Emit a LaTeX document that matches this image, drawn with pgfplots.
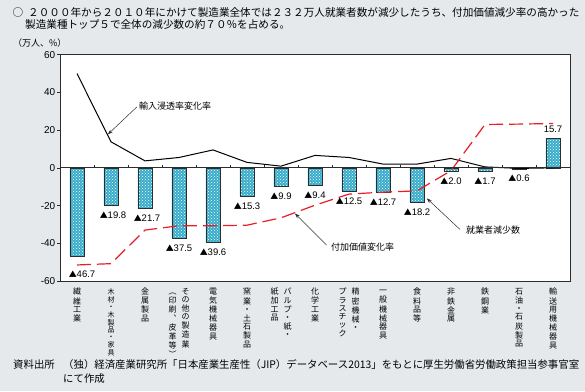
\documentclass[border=0pt]{standalone}
\usepackage{pgfplots}
\pgfplotsset{compat=1.18}
\usepackage{pgfplotstable}
\usepackage{fontspec}
\usetikzlibrary{patterns,arrows.meta}
\setmainfont{Noto Sans CJK JP}
\newfontfamily\numfont{Liberation Sans}
\newfontfamily\trifont{Noto Sans CJK JP}[Scale=0.84]
\protected\def\tri{{\trifont ▲}}
\definecolor{bg}{RGB}{230,233,236}
\definecolor{barfill}{RGB}{55,172,202}
\definecolor{redl}{RGB}{232,30,40}
\definecolor{frame}{RGB}{45,45,45}
\newcommand\vt[1]{\begin{tabular}[t]{@{}c@{}}#1\end{tabular}}
\newcommand\vtt[2]{\vt{#1}\hspace{5pt}\vt{#2}}

\pgfplotstableread{
x y lab dy dx
0 -46.7 \tri46.7 -22 5
1 -19.8 \tri19.8 -14 2
2 -21.7 \tri21.7 -14 2
3 -37.5 \tri37.5 -14 0
4 -39.6 \tri39.6 -14 0
5 -15.3 \tri15.3 -14 0
6 -9.9 \tri9.9 -14 0
7 -9.4 \tri9.4 -14 0
8 -12.5 \tri12.5 -14 0
9 -12.7 \tri12.7 -14 0
10 -18.2 \tri18.2 -14 0
11 -2.0 \tri2.0 -14 0
12 -1.7 \tri1.7 -14 0
13 -0.6 \tri0.6 -13 0
14 15.7 15.7 5 0
}\bars

\pgfplotstableread{
x y
0 50.0
1 13.8
2 3.7
3 5.5
4 9.5
5 2.9
6 0.9
7 6.6
8 5.5
9 2.0
10 2.0
11 5.0
12 0.5
13 -0.3
14 0.0
}\imp

\pgfplotstableread{
x y
0 -51.5
1 -50.8
2 -33.0
3 -30.7
4 -30.7
5 -30.4
6 -26.5
7 -19.8
8 -13.9
9 -12.9
10 -12.2
11 -1.5
12 23.0
13 23.2
14 23.5
}\va

\begin{document}
\begin{tikzpicture}
\useasboundingbox (0,0) rectangle (585pt,391pt);
\fill[bg] (0,0) rectangle (585pt,391pt);
% title
\node[font=\fontsize{10.6}{12}\selectfont, inner sep=0] at (18pt,379pt) {○};
\node[anchor=west, font=\fontsize{10.6}{12}\selectfont, inner sep=0] at (28pt,379pt) {２０００年から２０１０年にかけて製造業全体では２３２万人就業者数が減少したうち、付加価値減少率の高かった};
\node[anchor=west, font=\fontsize{10.6}{12}\selectfont, inner sep=0] at (25pt,367pt) {製造業種トップ５で全体の減少数の約７０％を占める。};
\node[anchor=west, font=\fontsize{9}{10}\selectfont, inner sep=0] at (13pt,348pt) {（万人、\%）};
% source
\node[anchor=west, font=\fontsize{10.4}{11}\selectfont, inner sep=0] at (13pt,26pt) {資料出所};
\node[anchor=west, font=\fontsize{10.4}{11}\selectfont, inner sep=0] at (63pt,26pt) {（独）経済産業研究所「日本産業生産性（JIP）データベース2013」をもとに厚生労働省労働政策担当参事官室};
\node[anchor=west, font=\fontsize{10.4}{11}\selectfont, inner sep=0] at (63pt,12pt) {にて作成};

\begin{axis}[
  at={(60pt,110pt)}, anchor=south west,
  scale only axis, width=510pt, height=226.3pt,
  xmin=-0.5, xmax=14.5, ymin=-60, ymax=60,
  axis line style={frame, line width=0.9pt},
  axis background/.style={fill=white},
  ytick={-60,-40,-20,0,20,40,60},
  yticklabels={-60,-40,-20,0,20,40,60},
  yticklabel style={font=\numfont\fontsize{10}{10}\selectfont, inner sep=1.5pt},
  ytick pos=left, tick align=outside, major tick length=3pt,
  y tick style={frame, line width=0.6pt},
  xtick={0,...,14},
  x tick style={draw=none},
  xticklabel style={anchor=north, font=\fontsize{8}{8}\selectfont, inner sep=0pt, yshift=-4pt},
  xticklabels={
    {\vt{繊\\維\\工\\業}},
    {\fontsize{7}{7}\selectfont\vt{木\\材\\・\\木\\製\\品\\・\\家\\具}},
    {\vt{金\\属\\製\\品}},
    {\vtt{︵\\印\\刷\\︑\\皮\\革\\等\\︶}{そ\\の\\他\\の\\製\\造\\業}},
    {\vt{電\\気\\機\\械\\器\\具}},
    {\vt{窯\\業\\・\\土\\石\\製\\品}},
    {\vtt{紙\\加\\工\\品}{パ\\ル\\プ\\・\\紙\\・}},
    {\vt{化\\学\\工\\業}},
    {\vtt{プ\\ラ\\ス\\チ\\ッ\\ク}{精\\密\\機\\械\\・}},
    {\vt{一\\般\\機\\械\\器\\具}},
    {\vt{食\\料\\品\\等}},
    {\vt{非\\鉄\\金\\属}},
    {\vt{鉄\\鋼\\業}},
    {\vt{石\\油\\・\\石\\炭\\製\\品}},
    {\vt{輸\\送\\用\\機\\械\\器\\具}}
  },
]
\addplot[ybar, bar width=14.3pt, draw=frame, line width=0.6pt, fill=barfill,
  postaction={pattern=crosshatch dots, pattern color=white},
  nodes near coords, nodes near coords align={vertical},
  point meta=explicit symbolic,
  visualization depends on={\thisrow{dy} \as \dy},
  visualization depends on={\thisrow{dx} \as \dx},
  every node near coord/.append style={font=\numfont\fontsize{9.5}{10}\selectfont, inner sep=0.5pt, yshift=\dy pt, xshift=\dx pt, black}
] table[x=x, y=y, meta=lab] {\bars};
\addplot[black, line width=1pt, sharp plot, mark=none] table[x=x,y=y] {\imp};
\addplot[redl, line width=1.2pt, sharp plot, mark=none, dash pattern=on 14pt off 6pt] table[x=x,y=y] {\va};
\draw[frame, line width=0.8pt] (axis cs:-0.5,0) -- (axis cs:14.5,0);
\pgfplotsinvokeforeach{0.5,1.5,2.5,3.5,4.5,5.5,6.5,7.5,8.5,9.5,10.5,11.5,12.5,13.5}{\draw[frame, line width=0.6pt] (axis cs:#1,0) -- (axis cs:#1,1.6);}
% annotations
\node[anchor=west, font=\fontsize{9}{10}\selectfont, inner sep=1pt] at (axis cs:1.79,32.7) {輸入浸透率変化率};
\draw[frame, line width=0.5pt, -{Stealth[length=5pt,width=3.5pt]}] (axis cs:1.76,32.3) -- (axis cs:0.91,17.8);
\node[anchor=west, font=\fontsize{9}{10}\selectfont, inner sep=1pt] at (axis cs:7.44,-41.8) {付加価値変化率};
\draw[frame, line width=0.5pt, -{Stealth[length=5pt,width=3.5pt]}] (axis cs:7.34,-40.9) -- (axis cs:6.41,-24.2);
\node[anchor=west, font=\fontsize{9}{10}\selectfont, inner sep=1pt] at (axis cs:11.41,-33.0) {就業者減少数};
\draw[frame, line width=0.5pt, -{Stealth[length=5pt,width=3.5pt]}] (axis cs:11.26,-32.6) -- (axis cs:10.29,-16.2);
\end{axis}
\end{tikzpicture}
\end{document}
